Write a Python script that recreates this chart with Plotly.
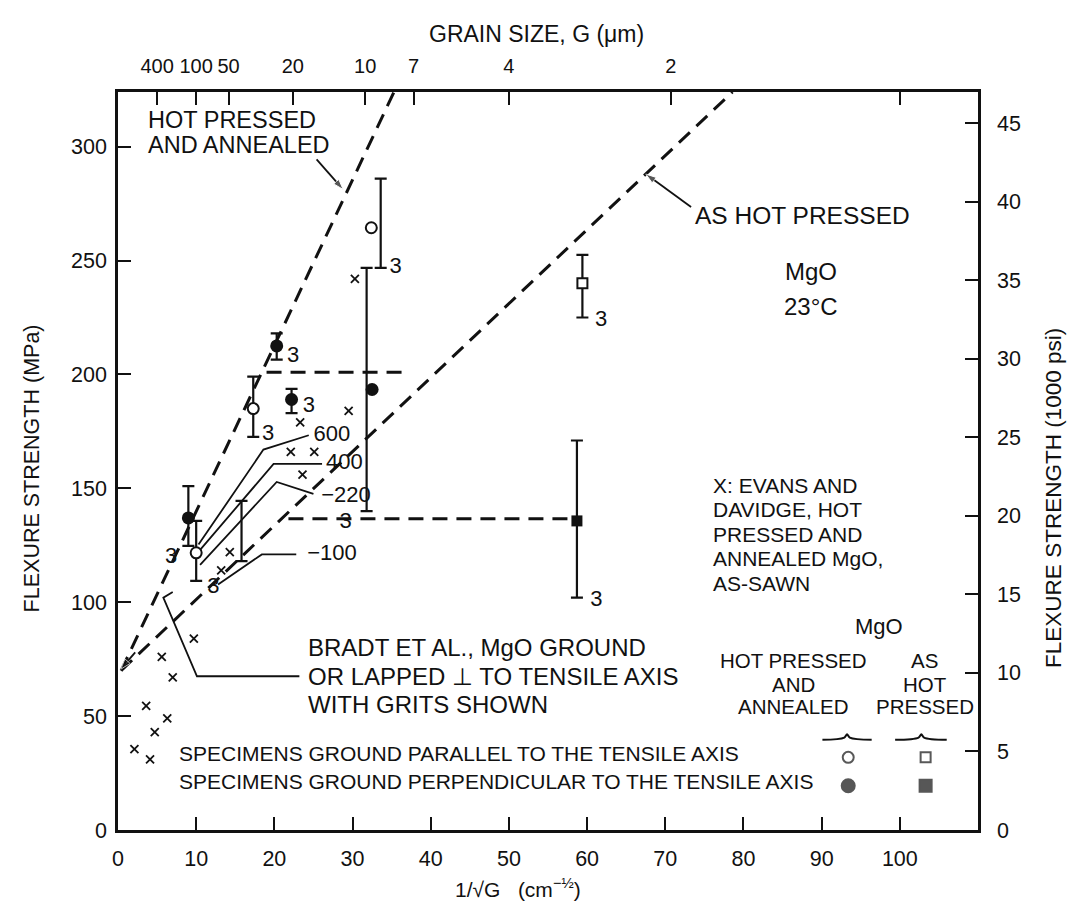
import plotly.graph_objects as go

# ---------------- data ----------------
MPA_PER_KSI = 6.895
X_RANGE = [0, 110]
Y_RANGE = [0, 324]

x_ticks = [0, 10, 20, 30, 40, 50, 60, 70, 80, 90, 100]
y_ticks = [0, 50, 100, 150, 200, 250, 300]
ksi_ticks = [0, 5, 10, 15, 20, 25, 30, 35, 40, 45]
grain_sizes = [400, 100, 50, 20, 10, 7, 4, 2]
grain_labels = ["400", "100", "50", "20", "10", "7", "4", "2"]
grain_unlabeled = [1]

# trend lines (dashed)
hpa_line_x = [0.4, 35.3]
hpa_line_y = [70, 324]
ahp_line_x = [0.4, 78.6]
ahp_line_y = [70, 324]
hpa_plateau_x = [19.0, 37.2]
hpa_plateau_y = [201, 201]
ahp_plateau_x = [21.8, 58.7]
ahp_plateau_y = [136.7, 136.7]

# Evans & Davidge (x markers)
evans_x = [2.1, 4.1, 3.6, 4.7, 6.3, 5.6, 7.0, 9.7, 13.2, 14.3, 22.1, 23.6, 25.1, 23.3, 29.5, 30.3]
evans_y = [35.5, 31, 54.5, 43, 49, 76, 67, 84, 114, 122, 166, 156, 166, 179, 184, 242]

# hot pressed & annealed
hpa_par_x = [10.0, 17.3, 32.4]
hpa_par_y = [121.7, 185, 264.4]
hpa_perp_x = [9.0, 20.3, 22.2, 32.5]
hpa_perp_y = [137, 212.5, 189, 193.4]
# as hot pressed
ahp_par_x = [59.4]
ahp_par_y = [240]
ahp_perp_x = [58.7]
ahp_perp_y = [135.7]

# error bars
bar_x = [9.0, 10.0, 17.3, 20.3, 22.2, 33.6, 31.8, 59.4, 58.7, 15.8]
bar_lo = [124.7, 109.4, 172.6, 206.5, 183, 246.8, 140, 225, 102, 118]
bar_hi = [151, 135.7, 199, 218, 193.7, 286, 246.8, 252.5, 171, 144.5]

# number of specimens labels
n_x = [6.8, 12.2, 19.2, 22.4, 24.4, 35.5, 29.1, 61.8, 61.2]
n_y = [119.5, 106.3, 173.6, 208, 186, 246.8, 134.8, 223.8, 100.6]
n_text = ["3"] * 9

# Bradt et al. grit lines
grit600_x = [10.3, 18.6, 24.4]
grit600_y = [125.3, 167, 173.3]
grit400_x = [10.5, 19.9, 26.1]
grit400_y = [123, 160.7, 160.7]
grit220_x = [10.5, 20.3, 25.0]
grit220_y = [116.4, 152.8, 147.6]
grit100_x = [12.8, 18.4, 22.8]
grit100_y = [107.8, 121, 121]
grit_label_x = [25.0, 26.6, 26.0, 24.2]
grit_label_y = [173.3, 160.7, 146.5, 121]
grit_label_text = ["600", "400", "\u2212220", "\u2212100"]

bradt_leader_x = [7.0, 5.8, 10.1, 23.2]
bradt_leader_y = [104.5, 102, 67.5, 67.5]

# leader arrows: (tail x, head x), (tail y, head y)
arrow_hpa_x = [25.4, 28.8]
arrow_hpa_y = [294.4, 281.2]
arrow_ahp_x = [73.3, 67.5]
arrow_ahp_y = [273.5, 288.0]
arrow_origin_x = [2.2, 0.35]
arrow_origin_y = [78.0, 70.6]

# legend symbols
leg_sym_x = [93.4, 103.3, 93.4, 103.3]
leg_sym_y = [31.9, 31.9, 19.4, 19.4]
brace1_x = [90.1, 92.9, 93.25, 93.6, 96.4]
brace2_x = [99.4, 102.4, 102.75, 103.1, 106.0]
brace_y = [39.6, 40.6, 42.0, 40.6, 39.6]

FONT = "Liberation Sans, Arial, Helvetica, sans-serif"
BLACK = "#111111"

fig = go.Figure()

dash = "15px,9px"
for xs, ys in [(hpa_line_x, hpa_line_y), (ahp_line_x, ahp_line_y),
               (hpa_plateau_x, hpa_plateau_y), (ahp_plateau_x, ahp_plateau_y)]:
    fig.add_trace(go.Scatter(x=xs, y=ys, mode="lines",
                             line=dict(color=BLACK, width=3, dash=dash),
                             hoverinfo="skip", showlegend=False))

# grit lines
for xs, ys in [(grit600_x, grit600_y), (grit400_x, grit400_y),
               (grit220_x, grit220_y), (grit100_x, grit100_y),
               (bradt_leader_x, bradt_leader_y)]:
    fig.add_trace(go.Scatter(x=xs, y=ys, mode="lines",
                             line=dict(color=BLACK, width=1.8),
                             hoverinfo="skip", showlegend=False))

# leader arrows
for xs, ys in [(arrow_hpa_x, arrow_hpa_y), (arrow_ahp_x, arrow_ahp_y),
               (arrow_origin_x, arrow_origin_y)]:
    fig.add_trace(go.Scatter(x=xs, y=ys, mode="lines+markers",
                             line=dict(color=BLACK, width=1.8),
                             marker=dict(symbol=["circle", "arrow"], size=[0, 11],
                                         angleref="previous", color=BLACK),
                             hoverinfo="skip", showlegend=False))

# braces in legend
for xs in [brace1_x, brace2_x]:
    fig.add_trace(go.Scatter(x=xs, y=brace_y, mode="lines",
                             line=dict(color=BLACK, width=2, shape="spline"),
                             hoverinfo="skip", showlegend=False))

# error bars
fig.add_trace(go.Scatter(
    x=bar_x, y=bar_lo, mode="markers",
    marker=dict(size=1, color="rgba(0,0,0,0)"),
    error_y=dict(type="data", symmetric=False,
                 array=[h - l for h, l in zip(bar_hi, bar_lo)],
                 arrayminus=[0] * len(bar_lo),
                 color=BLACK, thickness=2.2, width=6),
    hoverinfo="skip", showlegend=False))

# Evans & Davidge
fig.add_trace(go.Scatter(x=evans_x, y=evans_y, mode="markers",
                         marker=dict(symbol="x-thin", size=8,
                                     line=dict(color=BLACK, width=1.8)),
                         showlegend=False))

# data markers
fig.add_trace(go.Scatter(x=hpa_par_x, y=hpa_par_y, mode="markers",
                         marker=dict(symbol="circle", size=11, color="white",
                                     line=dict(color=BLACK, width=2)),
                         showlegend=False))
fig.add_trace(go.Scatter(x=hpa_perp_x, y=hpa_perp_y, mode="markers",
                         marker=dict(symbol="circle", size=13, color=BLACK),
                         showlegend=False))
fig.add_trace(go.Scatter(x=ahp_par_x, y=ahp_par_y, mode="markers",
                         marker=dict(symbol="square", size=10, color="white",
                                     line=dict(color=BLACK, width=2)),
                         showlegend=False))
fig.add_trace(go.Scatter(x=ahp_perp_x, y=ahp_perp_y, mode="markers",
                         marker=dict(symbol="square", size=11, color=BLACK),
                         showlegend=False))

# legend symbols
fig.add_trace(go.Scatter(
    x=leg_sym_x, y=leg_sym_y, mode="markers",
    marker=dict(symbol=["circle-open", "square-open", "circle", "square"],
                size=[11, 10, 13, 12], color=BLACK, line=dict(color=BLACK, width=2)),
    showlegend=False))

# "3" labels and grit labels
fig.add_trace(go.Scatter(x=n_x, y=n_y, mode="text", text=n_text,
                         textfont=dict(family=FONT, size=22, color=BLACK),
                         showlegend=False))
fig.add_trace(go.Scatter(x=grit_label_x, y=grit_label_y, mode="text",
                         text=grit_label_text, textposition="middle right",
                         textfont=dict(family=FONT, size=22, color=BLACK),
                         showlegend=False))

# invisible trace for secondary axes
fig.add_trace(go.Scatter(x=X_RANGE, y=[Y_RANGE[0] / MPA_PER_KSI, Y_RANGE[1] / MPA_PER_KSI],
                         xaxis="x2", yaxis="y2", mode="markers",
                         marker=dict(opacity=0), hoverinfo="skip", showlegend=False))

annotations = []


def txt(x, y, s, size=22, anchor="left"):
    annotations.append(dict(x=x, y=y, xref="x", yref="y", text=s, showarrow=False,
                            xanchor=anchor, yanchor="middle",
                            font=dict(family=FONT, size=size, color=BLACK)))


txt(3.6, 311.8, "HOT PRESSED", size=23.5)
txt(3.6, 300.6, "AND ANNEALED", size=23.5)
txt(73.6, 270, "AS HOT PRESSED", size=24.5)
txt(88.7, 245.4, "MgO", size=24, anchor="center")
txt(88.7, 230, "23\u00b0C", size=24, anchor="center")
for yy, s in zip([151.4, 140.6, 129.8, 119.0, 108.2],
                 ["X: EVANS AND", "DAVIDGE, HOT", "PRESSED AND", "ANNEALED MgO,", "AS-SAWN"]):
    txt(75.8, yy, s, size=21)
txt(97.4, 89.2, "MgO", size=22, anchor="center")
for yy, s in zip([74.6, 63.9, 54.1], ["HOT PRESSED", "AND", "ANNEALED"]):
    txt(86.4, yy, s, size=20.5, anchor="center")
for yy, s in zip([74.6, 63.9, 54.1], ["AS", "HOT", "PRESSED"]):
    txt(103.2, yy, s, size=20.5, anchor="center")
txt(7.6, 33.6, "SPECIMENS GROUND PARALLEL TO THE TENSILE AXIS", size=21)
txt(7.6, 21.2, "SPECIMENS GROUND PERPENDICULAR TO THE TENSILE AXIS", size=21)
txt(24.0, 80.0, "BRADT ET AL., MgO GROUND", size=24)
txt(24.0, 67.5, "OR LAPPED \u22a5 TO TENSILE AXIS", size=24)
txt(24.0, 55.0, "WITH GRITS SHOWN", size=24)

# axis titles
annotations.append(dict(x=0.487, y=1, xref="paper", yref="paper", yshift=58,
                        yanchor="middle",
                        text="GRAIN SIZE, G (\u03bcm)", showarrow=False,
                        font=dict(family=FONT, size=23, color=BLACK)))
annotations.append(dict(x=0.465, y=0, xref="paper", yref="paper", yshift=-58,
                        yanchor="middle",
                        text="1/\u221aG&#160;&#160;&#160;(cm<sup>\u2212\u00bd</sup>)", showarrow=False,
                        font=dict(family=FONT, size=21, color=BLACK)))
annotations.append(dict(x=0, y=0.49, xref="paper", yref="paper", xshift=-86,
                        xanchor="center",
                        text="FLEXURE STRENGTH (MPa)", textangle=-90, showarrow=False,
                        font=dict(family=FONT, size=21.5, color=BLACK)))
annotations.append(dict(x=1, y=0.45, xref="paper", yref="paper", xshift=76,
                        xanchor="center",
                        text="FLEXURE STRENGTH (1000 psi)", textangle=-90, showarrow=False,
                        font=dict(family=FONT, size=22.5, color=BLACK)))

axis_common = dict(showgrid=False, zeroline=False, showline=True, linecolor=BLACK,
                   linewidth=2.5, ticks="inside", ticklen=13, tickwidth=2,
                   tickcolor=BLACK, tickfont=dict(family=FONT, size=21.5, color=BLACK))

fig.update_layout(
    width=1075, height=919,
    margin=dict(l=110, r=105, t=84, b=97),
    paper_bgcolor="white", plot_bgcolor="white",
    showlegend=False,
    xaxis=dict(range=X_RANGE, tickvals=x_ticks, ticklabelstandoff=7, **axis_common),
    yaxis=dict(range=Y_RANGE, tickvals=y_ticks, ticklabelstandoff=4, **axis_common),
    xaxis2=dict(range=X_RANGE, overlaying="x", side="top", anchor="y2",
                tickmode="array",
                tickvals=[100 / g ** 0.5 for g in grain_sizes], ticktext=grain_labels,
                ticklabelstandoff=8,
                minor=dict(tickmode="array",
                           tickvals=[100 / g ** 0.5 for g in grain_unlabeled],
                           ticks="inside", ticklen=13, tickwidth=2, tickcolor=BLACK),
                **{**axis_common, "tickfont": dict(family=FONT, size=20, color=BLACK)}),
    yaxis2=dict(range=[Y_RANGE[0] / MPA_PER_KSI, Y_RANGE[1] / MPA_PER_KSI],
                overlaying="y", side="right", anchor="x2", tickvals=ksi_ticks,
                ticklabelstandoff=12, **axis_common),
    annotations=annotations,
)

fig.write_html("out.html")
